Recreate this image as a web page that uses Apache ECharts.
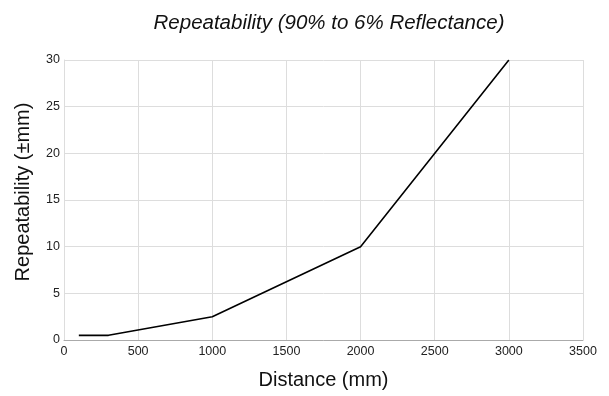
<!DOCTYPE html>
<html>
<head>
<meta charset="utf-8">
<script src="https://cdn.jsdelivr.net/npm/echarts@6/dist/echarts.min.js"></script>
<style>
  html, body { margin: 0; padding: 0; background: #fff; }
  #chart { width: 609px; height: 396px; }
</style>
</head>
<body>
<div id="chart"></div>
<script>
const distance = [100, 300, 1000, 2000, 3000];
const repeatability = [0.5, 0.5, 2.5, 10, 30];

const chart = echarts.init(document.getElementById('chart'));
const font = '"Liberation Sans", Arial, sans-serif';
chart.setOption({
  animation: false,
  title: {
    text: 'Repeatability (90% to 6% Reflectance)',
    left: 324,
    textAlign: 'center',
    top: 8,
    textStyle: { fontFamily: font, fontStyle: 'italic', fontWeight: 'normal', fontSize: 20.5, color: '#111' }
  },
  grid: { left: 64, right: 26, top: 60, bottom: 56 },
  xAxis: {
    type: 'value',
    min: 0, max: 3500, interval: 500,
    name: 'Distance (mm)',
    nameLocation: 'middle',
    nameGap: 30,
    nameTextStyle: { fontFamily: font, fontSize: 20, color: '#111' },
    axisLine: { lineStyle: { color: '#aaa' } },
    axisTick: { show: false },
    axisLabel: { fontFamily: font, fontSize: 12.5, color: '#222', margin: 5, formatter: v => String(v) },
    splitLine: { lineStyle: { color: '#ddd' } }
  },
  yAxis: {
    type: 'value',
    min: 0, max: 30, interval: 5,
    name: 'Repeatability (±mm)',
    nameLocation: 'middle',
    nameGap: 31,
    nameTextStyle: { fontFamily: font, fontSize: 20, color: '#111', padding: [0, 0, 0, 16] },
    axisLine: { show: true, lineStyle: { color: '#ddd' } },
    axisTick: { show: false },
    axisLabel: { fontFamily: font, fontSize: 12.5, color: '#222', margin: 4 },
    splitLine: { lineStyle: { color: '#ddd' } }
  },
  series: [{
    type: 'line',
    data: distance.map((d, i) => [d, repeatability[i]]),
    showSymbol: false,
    lineStyle: { color: '#000', width: 1.6 },
    itemStyle: { color: '#000' }
  }]
});
</script>
</body>
</html>
